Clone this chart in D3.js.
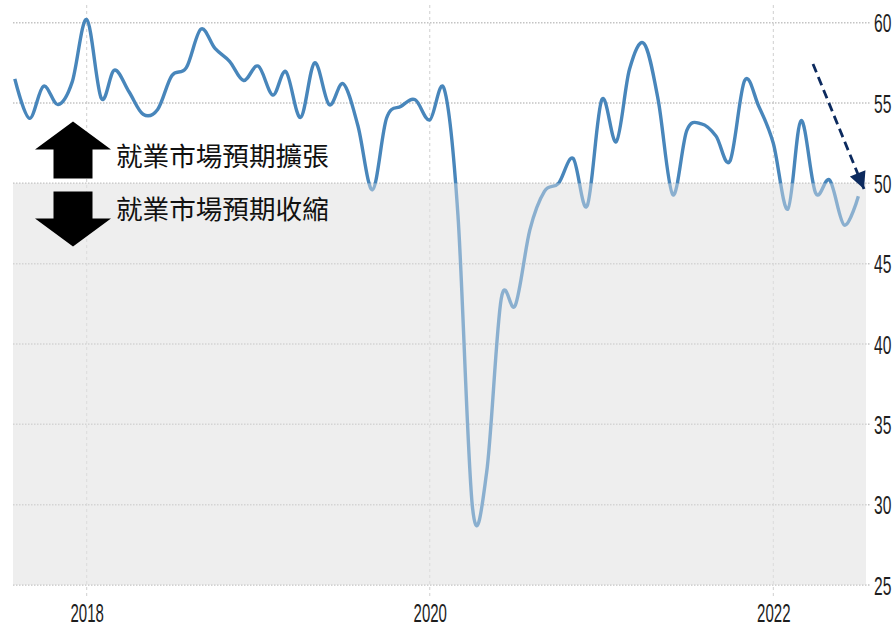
<!DOCTYPE html>
<html>
<head>
<meta charset="utf-8">
<script src="https://cdn.jsdelivr.net/npm/d3@7"></script>
<style>
  body { margin: 0; background: #fff; }
  svg { display: block; }
</style>
</head>
<body>
<div id="chart"></div>
<script>
// monthly index, Aug 2017 - Jul 2022
var startMonth = "2017-08-01";
var endMonth = "2022-07-01";
var indexValues = [
    56.5, 54.05, 56.05, 54.9, 56.3,
    60.2, 55.3, 57.05, 55.7, 54.3, 54.6, 56.7, 57.2, 59.6, 58.4, 57.6, 56.4,
    57.3, 55.5, 56.95, 54.1, 57.5, 54.9, 56.2, 53.6, 49.6, 54.05, 54.8, 55.2,
    53.95, 55.85, 48.0, 29.8, 32.0, 42.8, 42.4, 47.1, 49.5, 50.0, 51.55, 48.6,
    55.2, 52.6, 57.1, 58.7, 55.2, 49.3, 53.3, 53.7, 52.95, 51.4, 56.4, 54.8,
    52.5, 48.4, 53.9, 49.4, 50.2, 47.4, 49.2
];
var yTicks = [25, 30, 35, 40, 45, 50, 55, 60];
var xTickYears = ["2018-01-01", "2020-01-01", "2022-01-01"];
var threshold = 50;
var upLabel = "就業市場預期擴張";
var downLabel = "就業市場預期收縮";

var parseDate = d3.timeParse("%Y-%m-%d");
var months = d3.timeMonth.range(parseDate(startMonth), d3.timeMonth.offset(parseDate(endMonth), 1));
var data = months.map(function(d, i) { return { date: d, value: indexValues[i] }; });

var svgWidth = 895, svgHeight = 628;
var plotLeft = 13, plotRight = 866, gridRight = 870;

var svg = d3.select("#chart")
    .append("svg")
    .attr("width", svgWidth)
    .attr("height", svgHeight);

// scales
var xScale = d3.scaleTime()
    .domain([parseDate("2018-01-01"), parseDate("2022-01-01")])
    .range([86.7, 773.3]);

var yScale = d3.scaleLinear()
    .domain([25, 60])
    .range([585, 22.7]);

// grey contraction zone
svg.append("rect")
    .attr("x", plotLeft)
    .attr("y", yScale(threshold))
    .attr("width", plotRight - plotLeft)
    .attr("height", yScale(25) - yScale(threshold))
    .attr("fill", "#eeeeee");

// vertical grid
svg.append("g")
    .selectAll("line")
    .data(xTickYears)
    .enter()
    .append("line")
    .attr("x1", d => xScale(parseDate(d)))
    .attr("x2", d => xScale(parseDate(d)))
    .attr("y1", 5)
    .attr("y2", 597)
    .attr("stroke", "#cfcfcf")
    .attr("stroke-width", 1)
    .attr("stroke-dasharray", "3,3");

// horizontal grid
svg.append("g")
    .selectAll("line")
    .data(yTicks)
    .enter()
    .append("line")
    .attr("x1", plotLeft)
    .attr("x2", gridRight)
    .attr("y1", d => yScale(d))
    .attr("y2", d => yScale(d))
    .attr("stroke", "#c4c4c4")
    .attr("stroke-width", 1.5)
    .attr("stroke-dasharray", "1.5,1.5");

// the line
var line = d3.line()
    .x(d => xScale(d.date))
    .y(d => yScale(d.value))
    .curve(d3.curveCardinal.tension(0));

svg.append("path")
    .datum(data)
    .attr("d", line)
    .attr("fill", "none")
    .attr("stroke", "#4886bb")
    .attr("stroke-width", 3.4)
    .attr("stroke-linejoin", "round");

// wash over the part below 50
svg.append("rect")
    .attr("x", plotLeft)
    .attr("y", yScale(threshold))
    .attr("width", plotRight - plotLeft)
    .attr("height", yScale(25) - yScale(threshold))
    .attr("fill", "#eeeeee")
    .attr("opacity", 0.4);

// axes (labels only)
var rightAxis = d3.axisRight(yScale).tickValues(yTicks).tickSize(0).tickPadding(0);
var yAxis = svg.append("g")
    .attr("transform", "translate(874,0)")
    .call(rightAxis);
yAxis.select(".domain").remove();
yAxis.selectAll("text")
    .attr("x", 0)
    .attr("dy", "0.35em")
    .attr("transform", "scale(0.6,1)")
    .attr("fill", "#1e1e1e")
    .style("font-family", "'Liberation Sans', Arial, sans-serif")
    .style("font-size", "26px");

var bottomAxis = d3.axisBottom(xScale)
    .tickValues(xTickYears.map(parseDate))
    .tickFormat(d3.timeFormat("%Y"))
    .tickSize(0).tickPadding(0);
var xAxis = svg.append("g")
    .attr("transform", "translate(0,604)")
    .call(bottomAxis);
xAxis.select(".domain").remove();
xAxis.selectAll("text")
    .attr("y", 0)
    .attr("dy", "0.72em")
    .attr("transform", "scale(0.6,1)")
    .attr("fill", "#1e1e1e")
    .style("font-family", "'Liberation Sans', Arial, sans-serif")
    .style("font-size", "25px");

// big black arrows
svg.append("path")
    .attr("d", "M73,121.5 L111,149.5 L92.5,149.5 L92.5,178.5 L53.5,178.5 L53.5,149.5 L35,149.5 Z")
    .attr("fill", "#000");
svg.append("path")
    .attr("d", "M53.5,191.5 L92.5,191.5 L92.5,218.5 L111,218.5 L73,246.5 L35,218.5 L53.5,218.5 Z")
    .attr("fill", "#000");

svg.append("text")
    .attr("x", 116)
    .attr("y", 166)
    .text(upLabel)
    .style("font-family", "'Noto Sans CJK TC', 'Noto Sans CJK SC', sans-serif")
    .style("font-size", "26.6px")
    .attr("fill", "#111");
svg.append("text")
    .attr("x", 116)
    .attr("y", 219)
    .text(downLabel)
    .style("font-family", "'Noto Sans CJK TC', 'Noto Sans CJK SC', sans-serif")
    .style("font-size", "26.6px")
    .attr("fill", "#111");

// dashed trend arrow
svg.append("defs").append("marker")
    .attr("id", "head")
    .attr("viewBox", "0 0 10 10")
    .attr("refX", 10)
    .attr("refY", 5)
    .attr("markerWidth", 7)
    .attr("markerHeight", 6)
    .attr("markerUnits", "strokeWidth")
    .attr("orient", "auto")
    .append("path")
    .attr("d", "M0,0 L10,5 L0,10 Z")
    .attr("fill", "#0c2a5e");

svg.append("line")
    .attr("x1", 813)
    .attr("y1", 64)
    .attr("x2", 864)
    .attr("y2", 189)
    .attr("stroke", "#0c2a5e")
    .attr("stroke-width", 2.8)
    .attr("stroke-dasharray", "9,5")
    .attr("marker-end", "url(#head)");
</script>
</body>
</html>
